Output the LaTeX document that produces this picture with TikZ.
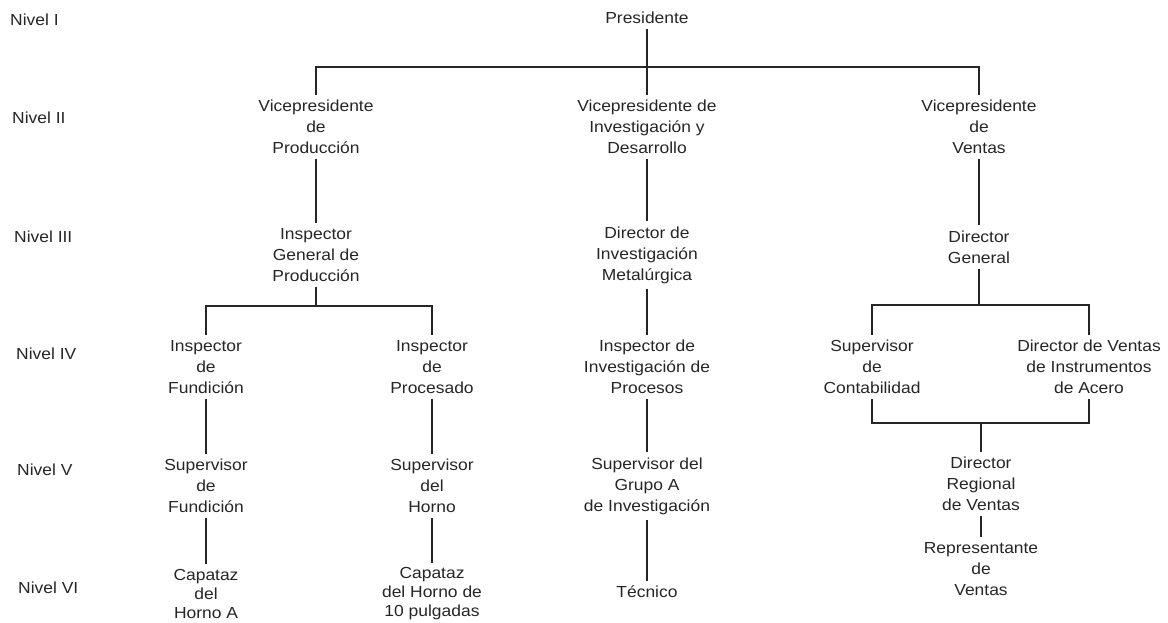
\documentclass[tikz,border=0pt]{standalone}
\usepackage{fontspec}
\setmainfont{Liberation Sans}[FakeStretch=1.09]
\begin{document}
\begin{tikzpicture}[x=1pt,y=-1pt,
  every node/.style={font=\fontsize{16}{21}\selectfont, text=black!85, align=center, inner xsep=2pt, inner ysep=5pt},
  lvl/.style={anchor=west, inner sep=0pt},
  tight/.style={font=\fontsize{16}{19}\selectfont},
  link/.style={draw=black!85, line width=1.4pt}]
\useasboundingbox[fill=white] (0,0) rectangle (1168,623);

% level labels
\node[lvl] (n1) at (10,20) {Nivel I};
\node[lvl] (n2) at (12,118) {Nivel II};
\node[lvl] (n3) at (14,237) {Nivel III};
\node[lvl] (n4) at (16,354) {Nivel IV};
\node[lvl] (n5) at (17,470) {Nivel V};
\node[lvl] (n6) at (18,588) {Nivel VI};

% nodes
\node (pres) at (647,18) {Presidente};
\node (vp1) at (316,127) {Vicepresidente\\de\\Producción};
\node (vp2) at (647,127) {Vicepresidente de\\Investigación y\\Desarrollo};
\node (vp3) at (979,127) {Vicepresidente\\de\\Ventas};
\node (ig) at (316,255) {Inspector\\General de\\Producción};
\node (dim) at (647,255) {Director de\\Investigación\\Metalúrgica};
\node (dg) at (979,247) {Director\\General};
\node (if) at (206,367) {Inspector\\de\\Fundición};
\node (ip) at (432,367) {Inspector\\de\\Procesado};
\node (iip) at (647,367) {Inspector de\\Investigación de\\Procesos};
\node (sc) at (872,367) {Supervisor\\de\\Contabilidad};
\node (dv) at (1089,367) {Director de Ventas\\de Instrumentos\\de Acero};
\node (sf) at (206,486) {Supervisor\\de\\Fundición};
\node (sh) at (432,486) {Supervisor\\del\\Horno};
\node (sg) at (647,486) {Supervisor del\\Grupo A\\de Investigación};
\node (dr) at (981,484) {Director\\Regional\\de Ventas};
\node[tight] (cha) at (206,594) {Capataz\\del\\Horno A};
\node[tight] (chp) at (432,594) {Capataz\\del Horno de\\10 pulgadas};
\node (tec) at (647,592) {Técnico};
\node (rv) at (981,569) {Representante\\de\\Ventas};

% bus coordinates
\coordinate (bus1) at (647,67);
\coordinate (bus2) at (316,306);
\coordinate (bus3) at (979,305);
\coordinate (bus4) at (981,423);

% connectors
\draw[link] (pres.south) -- (vp2.north);
\draw[link] (vp1.north) |- (bus1) -| (vp3.north);
\draw[link] (vp1.south) -- (ig.north);
\draw[link] (ig.south) -- (bus2);
\draw[link] (if.north) |- (bus2) -| (ip.north);
\draw[link] (if.south) -- (sf.north);
\draw[link] (sf.south) -- (cha.north);
\draw[link] (ip.south) -- (sh.north);
\draw[link] (sh.south) -- (chp.north);
\draw[link] (vp2.south) -- (dim.north);
\draw[link] (dim.south) -- (iip.north);
\draw[link] (iip.south) -- (sg.north);
\draw[link] (sg.south) -- (tec.north);
\draw[link] (vp3.south) -- (dg.north);
\draw[link] (dg.south) -- (bus3);
\draw[link] (sc.north) |- (bus3) -| (dv.north);
\draw[link] (sc.south) |- (bus4) -| (dv.south);
\draw[link] (bus4) -- (dr.north);
\draw[link] (dr.south) -- (rv.north);
\end{tikzpicture}
\end{document}
